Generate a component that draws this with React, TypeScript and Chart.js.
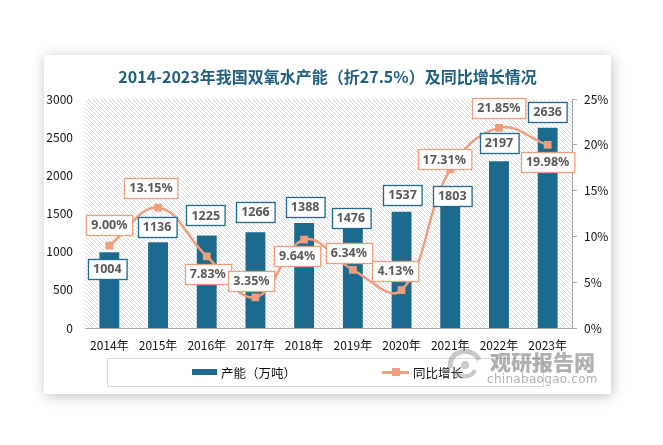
import React, { useEffect, useRef } from 'react';
import { Chart, registerables } from 'chart.js';

Chart.register(...registerables);

const categories = ['2014年', '2015年', '2016年', '2017年', '2018年', '2019年', '2020年', '2021年', '2022年', '2023年'];
const capacity = [1004, 1136, 1225, 1266, 1388, 1476, 1537, 1803, 2197, 2636];
const growth = [9.0, 13.15, 7.83, 3.35, 9.64, 6.34, 4.13, 17.31, 21.85, 19.98];
const leftAxis = { max: 3000, step: 500 };
const rightAxis = { max: 25, step: 5 };

const barName = '产能（万吨）';
const lineName = '同比增长';
const titleText = '2014-2023年我国双氧水产能（折27.5%）及同比增长情况';

// label offsets (px) relative to the mark, as placed in the original
const barLabelOffsets = [[-2, 18], [-1, -14], [-1, -19], [0, -19], [1, -15], [-2, 3], [1, -16], [2, 6], [0, -17], [0, -15]];
const lineLabelOffsets = [[0, -21], [-7, -20], [1, 18], [-4, -16], [-7, 16], [-4, -17], [-6, -19], [-6, -10], [0, -20], [0, 17]];

const BAR_COLOR = '#1C6A8E';
const LINE_COLOR = '#EE9E7C';
const CJK = "'Noto Sans CJK SC', 'Noto Sans', sans-serif";

const hatchPlugin = {
  id: 'hatch',
  beforeDraw(chart: any) {
    const { ctx, chartArea: a } = chart;
    const tile = document.createElement('canvas');
    tile.width = 4;
    tile.height = 4;
    const t = tile.getContext('2d')!;
    t.fillStyle = '#ffffff';
    t.fillRect(0, 0, 4, 4);
    t.fillStyle = '#d9d9d9';
    for (let i = 0; i < 4; i++) t.fillRect(i, i, 1, 1);
    const pat = ctx.createPattern(tile, 'repeat');
    ctx.save();
    ctx.fillStyle = pat;
    ctx.fillRect(a.left, a.top, a.right - a.left, a.bottom - a.top);
    ctx.restore();
  },
};

function drawBox(ctx: CanvasRenderingContext2D, text: string, cx: number, cy: number, border: string) {
  ctx.font = "bold 12.5px 'Noto Sans', sans-serif";
  const w = ctx.measureText(text).width + 10;
  const h = 20;
  const x = Math.round(cx - w / 2) + 0.5;
  const y = Math.round(cy - h / 2) + 0.5;
  ctx.fillStyle = '#ffffff';
  ctx.fillRect(x, y, w, h);
  ctx.strokeStyle = border;
  ctx.lineWidth = 1.3;
  ctx.strokeRect(x, y, w, h);
  ctx.fillStyle = '#595959';
  ctx.textAlign = 'center';
  ctx.textBaseline = 'middle';
  ctx.fillText(text, cx, cy + 0.5);
}

const labelPlugin = {
  id: 'boxLabels',
  afterDatasetsDraw(chart: any) {
    const { ctx } = chart;
    ctx.save();
    const barMeta = chart.getDatasetMeta(0);
    barMeta.data.forEach((el: any, i: number) => {
      const [dx, dy] = barLabelOffsets[i];
      drawBox(ctx, String(capacity[i]), el.x + dx, el.y + dy, BAR_COLOR);
    });
    const lineMeta = chart.getDatasetMeta(1);
    lineMeta.data.forEach((el: any, i: number) => {
      const [dx, dy] = lineLabelOffsets[i];
      drawBox(ctx, growth[i].toFixed(2) + '%', el.x + dx, el.y + dy, LINE_COLOR);
    });
    ctx.restore();
  },
};

export default function App() {
  const ref = useRef<HTMLCanvasElement>(null);

  useEffect(() => {
    if (!ref.current) return;
    const chart = new Chart(ref.current, {
      type: 'bar',
      data: {
        labels: categories,
        datasets: [
          {
            type: 'bar',
            label: barName,
            data: capacity,
            yAxisID: 'y',
            backgroundColor: BAR_COLOR,
            borderColor: '#ffffff',
            borderWidth: 1,
            barPercentage: 0.45,
            categoryPercentage: 1,
            order: 2,
          } as any,
          {
            type: 'line',
            label: lineName,
            data: growth,
            yAxisID: 'y1',
            borderColor: LINE_COLOR,
            backgroundColor: LINE_COLOR,
            borderWidth: 2.5,
            pointStyle: 'rect',
            pointRadius: 5.5,
            pointBackgroundColor: LINE_COLOR,
            pointBorderWidth: 0,
            tension: 0.4,
            order: 1,
          } as any,
        ],
      },
      options: {
        responsive: false,
        animation: false,
        layout: { padding: { top: 44, left: 0, right: 0, bottom: 36 } },
        plugins: {
          legend: { display: false },
          title: { display: false },
          tooltip: { enabled: false },
        },
        scales: {
          x: {
            grid: { display: false },
            border: { color: '#a6a6a6', width: 1 },
            ticks: { color: '#111', font: { family: CJK, size: 12 }, padding: 2, maxRotation: 0 },
            afterFit(s: any) { s.height = 30; },
          },
          y: {
            position: 'left',
            min: 0,
            max: leftAxis.max,
            ticks: {
              stepSize: leftAxis.step,
              color: '#111',
              font: { family: CJK, size: 12 },
              padding: 4,
              callback: (v: any) => String(v),
            },
            grid: { display: false },
            border: { display: false },
            afterFit(s: any) { s.width = 41; },
          },
          y1: {
            position: 'right',
            min: 0,
            max: rightAxis.max,
            ticks: {
              stepSize: rightAxis.step,
              color: '#111',
              font: { family: CJK, size: 12 },
              padding: 7,
              callback: (v: any) => v + '%',
            },
            grid: { drawOnChartArea: false, color: '#a6a6a6', tickLength: 5 },
            border: { color: '#a6a6a6', width: 1 },
            afterFit(s: any) { s.width = 39; },
          },
        },
      } as any,
      plugins: [hatchPlugin, labelPlugin],
    });
    return () => chart.destroy();
  }, []);

  return (
    <div style={{ position: 'absolute', left: 0, top: 0, width: 663, height: 445, background: '#fff', overflow: 'hidden' }}>
      <div
        style={{
          position: 'absolute',
          left: 44,
          top: 55,
          width: 567,
          height: 339,
          background: '#fff',
          boxShadow: '1px 2px 12px rgba(0,0,0,0.25)',
        }}
      >
        <canvas ref={ref} width={567} height={339} style={{ position: 'absolute', left: 0, top: 0, width: 567, height: 339 }} />
        <div
          style={{
            position: 'absolute',
            left: 0,
            top: 10,
            width: 567,
            lineHeight: '22px',
            textAlign: 'center',
            fontFamily: CJK,
            fontWeight: 700,
            fontSize: 16,
            color: '#1F5F80',
            whiteSpace: 'nowrap',
          }}
        >
          {titleText}
        </div>
        <div
          style={{
            position: 'absolute',
            left: 63,
            top: 303,
            width: 435,
            height: 27,
            border: '1px solid #d9d9d9',
            fontFamily: CJK,
            fontSize: 12.5,
            color: '#111',
          }}
        >
          <div style={{ position: 'absolute', left: 84, top: 10, width: 25, height: 6, background: BAR_COLOR }} />
          <div style={{ position: 'absolute', left: 113, top: 4, lineHeight: '20px', whiteSpace: 'nowrap' }}>{barName}</div>
          <div style={{ position: 'absolute', left: 274, top: 12, width: 27, height: 3, background: LINE_COLOR }} />
          <div style={{ position: 'absolute', left: 284, top: 9, width: 8, height: 8, background: LINE_COLOR }} />
          <div style={{ position: 'absolute', left: 305, top: 4, lineHeight: '20px', whiteSpace: 'nowrap' }}>{lineName}</div>
        </div>
      </div>
      {/* watermark */}
      <svg style={{ position: 'absolute', left: 445, top: 348, opacity: 0.45 }} width={40} height={34} viewBox="0 0 40 34">
        <path d="M6 20 A14 12 0 0 1 34 12" stroke="#888" strokeWidth={5} fill="none" />
        <path d="M10 24 A11 9 0 0 0 30 22" stroke="#888" strokeWidth={4} fill="none" />
        <circle cx={20} cy={17} r={4} fill="#888" />
      </svg>
      <div
        style={{
          position: 'absolute',
          left: 490,
          top: 349,
          fontFamily: CJK,
          fontWeight: 900,
          fontSize: 21,
          lineHeight: '24px',
          color: 'rgba(110,110,110,0.55)',
          letterSpacing: 0,
          whiteSpace: 'nowrap',
        }}
      >
        观研报告网
      </div>
      <div
        style={{
          position: 'absolute',
          left: 487,
          top: 372,
          fontFamily: "'DejaVu Sans', sans-serif",
          fontSize: 12,
          lineHeight: '14px',
          color: 'rgba(110,110,110,0.55)',
          letterSpacing: 0.3,
          whiteSpace: 'nowrap',
        }}
      >
        chinabaogao.com
      </div>
    </div>
  );
}
